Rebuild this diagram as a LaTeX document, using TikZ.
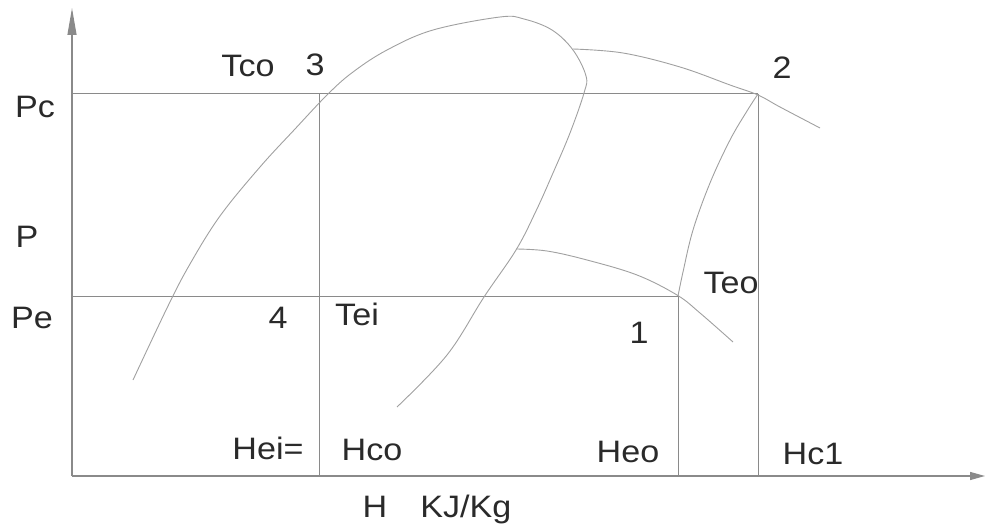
\documentclass[tikz,border=0pt]{standalone}
\usepackage{fontspec}
\setmainfont{Liberation Sans}[FakeStretch=1.1]
\usepackage{tikz}
\usetikzlibrary{arrows.meta}

\definecolor{inkgray}{HTML}{2A2A2A}
\definecolor{gridgray}{HTML}{8A8A8A}
\definecolor{curvegray}{HTML}{A0A0A0}

\begin{document}
\begin{tikzpicture}[
  x=1pt, y=-1pt,
  font=\fontsize{31}{37}\selectfont,
  axis/.style={draw=gridgray, line width=1.2pt},
  level/.style={draw=gridgray, line width=1pt},
  curve/.style={draw=curvegray, line width=0.9pt},
  lbl/.style={anchor=base, inner sep=0pt, text=inkgray}
]
  \useasboundingbox (0,0) rectangle (985,524);

  % Axes
  \coordinate (origin) at (72,476);
  \coordinate (ytop) at (72,8);
  \coordinate (xend) at (985,476);
  \draw[axis, -{Triangle[length=27pt, width=9pt]}] (origin) -- (ytop);
  \draw[axis, -{Triangle[length=15pt, width=8pt]}] (origin) -- (xend);

  % State points of the cycle
  \coordinate (p1) at (678,296);
  \coordinate (p2) at (758,94);
  \coordinate (p3) at (319,94);
  \coordinate (p4) at (319,296);

  % Pressure levels and enthalpy verticals
  \draw[level] (origin |- p2) -- (p2);
  \draw[level] (origin |- p1) -- (p1);
  \draw[level] (p3) -- (p3 |- origin);
  \draw[level] (p1) -- (p1 |- origin);
  \draw[level] (p2) -- (p2 |- origin);

  % Saturation dome
  \draw[curve] plot[smooth, tension=0.6] coordinates {
    (133,380) (168,306) (190,264) (220,216) (260,167) (295,129)
    (328,94) (353,72) (387,50) (433,30) (500,17) (524,19)
    (552,30) (573,50) (586,76) (584,93) (570,133) (553,173)
    (536,211) (516,250) (484,297) (447,355) (397,407)};

  % Isotherms
  \draw[curve] plot[smooth, tension=0.6] coordinates {
    (573,49) (623,53) (680,67) (730,85) (758,95) (780,107) (820,128)};
  \draw[curve] plot[smooth, tension=0.6] coordinates {
    (516,249) (547,251) (587,260) (637,275) (677,295) (700,313) (733,342)};

  % Compression line 1-2
  \draw[curve] plot[smooth, tension=0.6] coordinates {
    (p1) (683,272) (693,230) (710,183) (730,140) (747,111) (p2)};

  % Labels
  \node[lbl] (tco) at (248,77) {Tco};
  \node[lbl] (n3) at (315,76) {3};
  \node[lbl] (n2) at (782,79) {2};
  \node[lbl] (pc) at (35,118) {Pc};
  \node[lbl] (pp) at (27,247) {P};
  \node[lbl] (pe) at (32,328) {Pe};
  \node[lbl] (n4) at (278,328) {4};
  \node[lbl] (tei) at (357,325) {Tei};
  \node[lbl] (n1) at (639,343) {1};
  \node[lbl] (teo) at (731,293) {Teo};
  \node[lbl] (hei) at (268,459) {Hei=};
  \node[lbl] (hco) at (372,460) {Hco};
  \node[lbl] (heo) at (628,462) {Heo};
  \node[lbl] (hc1) at (813,464) {Hc1};
  \node[lbl] (hunit) at (437,517) {H\hspace{33pt}KJ/Kg};
\end{tikzpicture}
\end{document}
